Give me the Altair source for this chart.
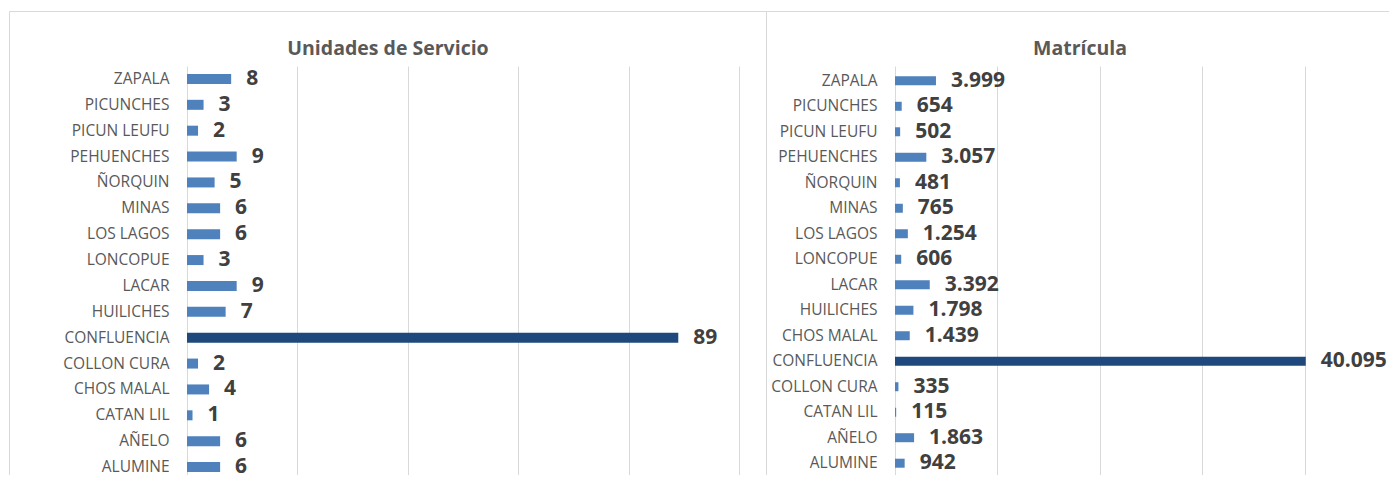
import altair as alt
import pandas as pd

# ---- data ----
left_title = "Unidades de Servicio"
left_names = ["ZAPALA", "PICUNCHES", "PICUN LEUFU", "PEHUENCHES", "ÑORQUIN", "MINAS",
              "LOS LAGOS", "LONCOPUE", "LACAR", "HUILICHES", "CONFLUENCIA", "COLLON CURA",
              "CHOS MALAL", "CATAN LIL", "AÑELO", "ALUMINE"]
left_vals = [8, 3, 2, 9, 5, 6, 6, 3, 9, 7, 89, 2, 4, 1, 6, 6]
left_grid = [0, 20, 40, 60, 80, 100]

right_title = "Matrícula"
right_names = ["ZAPALA", "PICUNCHES", "PICUN LEUFU", "PEHUENCHES", "ÑORQUIN", "MINAS",
               "LOS LAGOS", "LONCOPUE", "LACAR", "HUILICHES", "CHOS MALAL", "CONFLUENCIA",
               "COLLON CURA", "CATAN LIL", "AÑELO", "ALUMINE"]
right_vals = [3999, 654, 502, 3057, 481, 765, 1254, 606, 3392, 1798, 1439, 40095,
              335, 115, 1863, 942]
right_grid = [0, 10000, 20000, 30000, 40000]

highlight = "CONFLUENCIA"

LIGHT = "#4f81bd"
DARK = "#1f497d"
GRID = "#d9d9d9"
LABEL_FONT = "Open Sans"


def fmt(v):
    return f"{v:,}".replace(",", ".")


def panel(names, vals, grid, domain, width, height, pad_outer, bar_size, title, title_x,
          border_rules):
    df = pd.DataFrame({"name": names, "value": vals, "label": [fmt(v) for v in vals]})
    base = alt.Chart(df)
    y = alt.Y("name:N", sort=names,
              scale=alt.Scale(paddingOuter=pad_outer, paddingInner=0),
              axis=alt.Axis(title=None, ticks=False, domain=False, grid=False,
                            labelFont=LABEL_FONT, labelFontSize=15.5, labelColor="#595959",
                            labelPadding=18))
    x = alt.X("value:Q", scale=alt.Scale(domain=domain, nice=False, zero=True),
              axis=alt.Axis(title=None, values=grid, labels=False, ticks=False, domain=False,
                            grid=True, gridColor=GRID, gridWidth=1))
    color = alt.condition(alt.datum.name == highlight, alt.value(DARK), alt.value(LIGHT))
    bars = base.mark_bar(size=bar_size).encode(y=y, x=x, color=color)
    labels = base.mark_text(align="left", baseline="middle", dx=15, dy=0,
                            font=LABEL_FONT, fontWeight="bold", fontSize=21,
                            color="#404040").encode(y=y, x=x, text="label:N")
    ttl = alt.Chart(pd.DataFrame({"t": [title]})).mark_text(
        align="center", baseline="alphabetic", font=LABEL_FONT, fontWeight="bold",
        fontSize=19.5, color="#595959").encode(text="t:N", x=alt.value(title_x),
                                               y=alt.value(-11))
    layers = [bars, labels, ttl]
    for (x1, x2, y1, y2) in border_rules:
        r = alt.Chart(pd.DataFrame({"k": [0]})).mark_rule(color=GRID, strokeWidth=1).encode(
            x=alt.value(x1), x2=alt.value(x2), y=alt.value(y1), y2=alt.value(y2))
        layers.append(r)
    return alt.layer(*layers).properties(width=width, height=height)


LH = 414
RH = 412
left = panel(left_names, left_vals, left_grid, [0, 100], 552, LH, 0.0, 10,
             left_title, 201,
             [(-177.5, -177.5, -54.5, LH), (-177.5, 579.5, -54.5, -54.5),
              (579.5, 579.5, -54.5, LH)])
right = panel(right_names, right_vals, right_grid, [0, 45000], 461, RH, 0.08, 9,
              right_title, 185,
              [(-128.5, 502, -54.5, -54.5)])

chart = alt.hconcat(left, right, spacing=156, bounds="flush").properties(
    autosize=alt.AutoSizeParams(type="none"),
    padding={"left": 179, "top": 58, "right": 1202, "bottom": 409},
).configure_view(stroke=None)

chart.save("out.html", embed_options={"renderer": "svg", "actions": False})
